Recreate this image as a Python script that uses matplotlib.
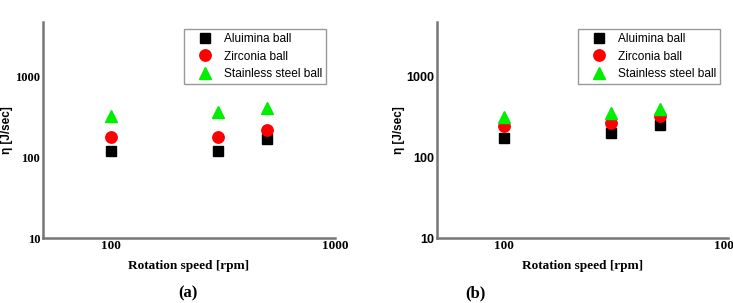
import numpy as np
import matplotlib
matplotlib.use("Agg")
from matplotlib import pyplot as plt
from matplotlib.ticker import FixedLocator, FixedFormatter, NullLocator

# data
speed = [100, 300, 500]
series_names = ['Aluimina ball', 'Zirconia ball', 'Stainless steel ball']
eta_a_alumina = [120, 120, 170]
eta_a_zirconia = [180, 180, 215]
eta_a_steel = [320, 360, 410]
eta_b_alumina = [175, 200, 250]
eta_b_zirconia = [240, 265, 320]
eta_b_steel = [315, 350, 395]
x_ticks = [100, 1000]
x_tick_labels = ['100', '1000']
y_ticks = [10, 100, 1000]
y_tick_labels = ['10', '100', '1000']

styles = [('s', 'black', 7.2), ('o', '#ff0000', 8.2), ('^', '#00ee00', 9)]

fig = plt.figure(figsize=(7.33, 3.03), dpi=100)

def panel(rect, vals, ytick_font, leg_x, ylab_pad):
    ax = fig.add_axes(rect)
    for (m, c, ms), y, name in zip(styles, vals, series_names):
        ax.plot(speed, y, linestyle='none', marker=m, color=c, markersize=ms, label=name)
    ax.set_xscale('log')
    ax.set_yscale('log')
    ax.set_xlim(50, 1000)
    ax.set_ylim(10, 4700)
    ax.xaxis.set_major_locator(FixedLocator(x_ticks))
    ax.xaxis.set_major_formatter(FixedFormatter(x_tick_labels))
    ax.yaxis.set_major_locator(FixedLocator(y_ticks))
    ax.yaxis.set_major_formatter(FixedFormatter(y_tick_labels))
    ax.xaxis.set_minor_locator(NullLocator())
    ax.yaxis.set_minor_locator(NullLocator())
    ax.tick_params(length=0)
    ax.tick_params(axis='x', pad=1.5)
    ax.tick_params(axis='y', pad=2)
    for lb in ax.get_xticklabels():
        lb.set_fontfamily('Liberation Serif')
        lb.set_fontweight('bold')
        lb.set_fontsize(9.5)
    for lb in ax.get_yticklabels():
        lb.set_fontfamily(ytick_font)
        lb.set_fontweight('bold')
        lb.set_fontsize(9)
    for s in ['top', 'right']:
        ax.spines[s].set_visible(False)
    for s in ['left', 'bottom']:
        ax.spines[s].set_color('#777777')
        ax.spines[s].set_linewidth(1.8)
    ax.set_xlabel('Rotation speed [rpm]', fontfamily='Liberation Serif', fontweight='bold',
                  fontsize=9.5, labelpad=6)
    ax.set_ylabel('η [J/sec]', fontfamily='Liberation Sans', fontweight='bold', fontsize=8.5,
                  labelpad=ylab_pad)
    leg = ax.legend(loc='upper left', bbox_to_anchor=(leg_x, 0.968), borderaxespad=0,
                    prop={'family': 'Liberation Sans', 'size': 8.6}, fancybox=False,
                    edgecolor='#999999', framealpha=1, handletextpad=0.2,
                    borderpad=0.35, labelspacing=0.45, handlelength=2.8)
    leg.get_frame().set_linewidth(1.0)
    return ax

panel([0.0587, 0.2145, 0.398, 0.7125],
      [eta_a_alumina, eta_a_zirconia, eta_a_steel], 'Liberation Serif', 0.4834, 1.5)
panel([0.5958, 0.2145, 0.397, 0.7125],
      [eta_b_alumina, eta_b_zirconia, eta_b_steel], 'Liberation Sans', 0.4845, 0.5)

for xpos, tag in [(0.257, '(a)'), (0.6485, '(b)')]:
    fig.text(xpos, 0.033, tag, ha='center', va='center',
             fontfamily='Liberation Serif', fontweight='bold', fontsize=12)

fig.savefig('out.png', dpi=100)
